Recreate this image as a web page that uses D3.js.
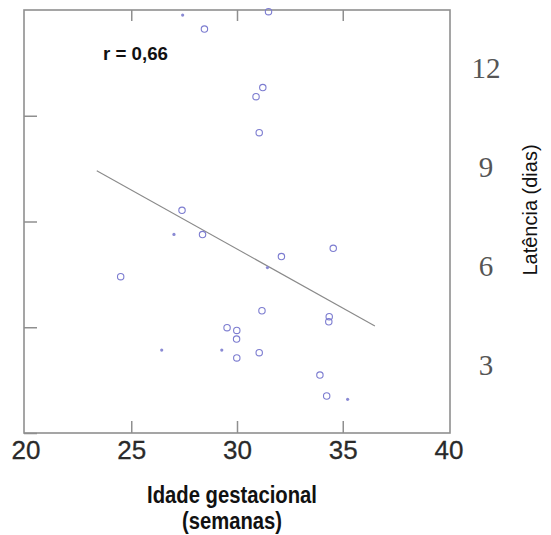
<!DOCTYPE html>
<html><head><meta charset="utf-8">
<script src="https://cdn.jsdelivr.net/npm/d3@7"></script>
<style>body{margin:0;background:#fff}svg{display:block}</style>
</head><body>
<script>
// ---- data ----
const gestAge = [27.43,28.46,31.49,31.22,30.90,31.05,27.40,27.02,28.37,24.50,31.44,32.10,34.55,31.18,29.53,29.99,29.98,26.44,29.28,29.99,31.05,34.36,34.34,33.92,34.24,35.23];
const latency = [19.76,19.10,19.92,16.33,15.90,14.20,10.53,9.39,9.38,7.39,7.82,8.34,8.73,5.78,4.98,4.85,4.44,3.92,3.92,3.55,3.80,5.50,5.26,2.74,1.75,1.59];
const markerType = ["dot","circle","circle","circle","circle","circle","circle","dot","circle","circle","dot","circle","circle","circle","circle","circle","circle","dot","dot","circle","circle","circle","circle","circle","circle","dot"];
const fitX = [23.37, 36.52];
const fitY = [12.40, 5.06];
const xTicks = [20,25,30,35,40];
const xInnerTicks = [25,30,35];
const yInnerTicks = [0,5,10,15];
const rightLabels = [3,6,9,12];
const rLabel = "r = 0,66";
const xTitle = ["Idade gestacional","(semanas)"];
const yTitle = "Latência (dias)";

const W=551,H=535;
const svg=d3.select("body").append("svg").attr("width",W).attr("height",H);
const x=d3.scaleLinear().domain([20,40]).range([25.5,448.5]);
const y=d3.scaleLinear().domain([0,20]).range([433,10]);
const yR=d3.scaleLinear().domain([3,12]).range([365,68]);
const boxL=24,boxR=450,boxT=10,boxB=433;
const axisCol="#8f8f8f";

// frame
svg.append("rect").attr("x",boxL).attr("y",boxT).attr("width",boxR-boxL).attr("height",boxB-boxT)
 .attr("fill","none").attr("stroke",axisCol).attr("stroke-width",1.6);

// bottom labels via axis
const xb=svg.append("g").attr("transform",`translate(0,${boxB})`)
 .call(d3.axisBottom(x).tickValues(xTicks).tickSize(0).tickPadding(10).tickFormat(d3.format("d")));
xb.select(".domain").remove();
xb.selectAll("text").attr("font-family","Liberation Sans, Arial, sans-serif").attr("font-size",26)
 .attr("fill","#2a2a2a").attr("stroke","#2a2a2a").attr("stroke-width",0.3).attr("dy","0.62em");
// inward ticks
svg.append("g").attr("transform",`translate(0,${boxB})`)
 .call(d3.axisTop(x).tickValues(xInnerTicks).tickSize(12).tickFormat(""))
 .call(s=>{s.select(".domain").remove();s.selectAll("line").attr("stroke",axisCol).attr("stroke-width",1.5);});
svg.append("g").attr("transform",`translate(0,${boxT})`)
 .call(d3.axisBottom(x).tickValues(xInnerTicks).tickSize(11).tickFormat(""))
 .call(s=>{s.select(".domain").remove();s.selectAll("line").attr("stroke",axisCol).attr("stroke-width",1.5);});
svg.append("g").attr("transform",`translate(${boxL},0)`)
 .call(d3.axisRight(y).tickValues(yInnerTicks).tickSize(13).tickFormat(""))
 .call(s=>{s.select(".domain").remove();s.selectAll("line").attr("stroke",axisCol).attr("stroke-width",1.5);});

// right labels (serif)
svg.append("g").selectAll("text").data(rightLabels).join("text")
 .attr("x",486).attr("y",d=>yR(d)).attr("dy","0.35em").attr("text-anchor","middle")
 .attr("font-family","Liberation Serif, Times New Roman, serif").attr("font-size",29).attr("fill","#555")
 .text(d=>d);

// regression line
svg.append("line").attr("x1",x(fitX[0])).attr("y1",y(fitY[0])).attr("x2",x(fitX[1])).attr("y2",y(fitY[1]))
 .attr("stroke","#8a8a8a").attr("stroke-width",1.1);

// points
const pts=gestAge.map((d,i)=>({x:d,y:latency[i],t:markerType[i]}));
svg.append("g").selectAll("circle").data(pts.filter(p=>p.t==="circle")).join("circle")
 .attr("cx",d=>x(d.x)).attr("cy",d=>y(d.y)).attr("r",3.2)
 .attr("fill","none").attr("stroke","#7c7cd0").attr("stroke-width",1.1);
svg.append("g").selectAll("circle").data(pts.filter(p=>p.t==="dot")).join("circle")
 .attr("cx",d=>x(d.x)).attr("cy",d=>y(d.y)).attr("r",1.6)
 .attr("fill","#8a8ad4");

// r label
svg.append("text").attr("x",103).attr("y",60).attr("font-family","Liberation Sans, Arial, sans-serif")
 .attr("font-weight","bold").attr("font-size",18).attr("fill","#111")
 .attr("textLength",65).attr("lengthAdjust","spacingAndGlyphs").text(rLabel);

// x title
const tfont="Liberation Sans Narrow, Liberation Sans, Arial, sans-serif";
svg.append("text").attr("x",147).attr("y",503)
 .attr("font-family",tfont).attr("font-weight","bold")
 .attr("font-size",23).attr("fill","#111").attr("textLength",170).attr("lengthAdjust","spacingAndGlyphs").text(xTitle[0]);
svg.append("text").attr("x",182).attr("y",529)
 .attr("font-family",tfont).attr("font-weight","bold")
 .attr("font-size",23).attr("fill","#111").attr("textLength",100).attr("lengthAdjust","spacingAndGlyphs").text(xTitle[1]);

// y title (rotated, right side)
svg.append("text").attr("transform","translate(537,210) rotate(-90)").attr("text-anchor","middle")
 .attr("font-family","Liberation Sans, Arial, sans-serif").attr("font-size",20).attr("fill","#111").text(yTitle);
</script>
</body></html>
